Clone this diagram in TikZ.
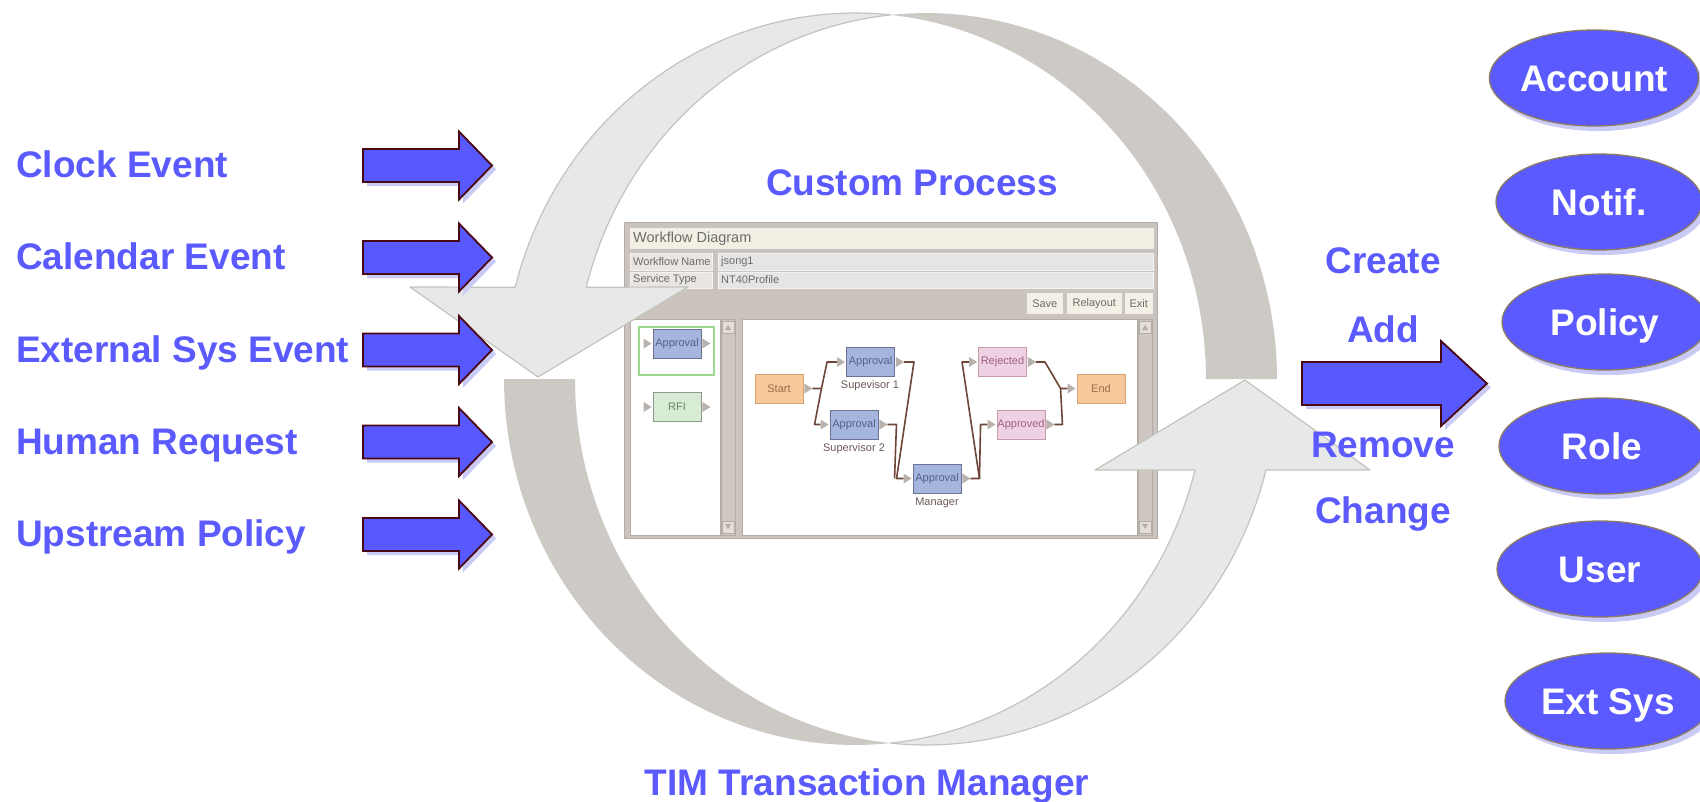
\documentclass[tikz,border=0pt]{standalone}
\usepackage{fontspec}
\setmainfont{Liberation Sans}
\usetikzlibrary{shapes.geometric,shadows}

\definecolor{lblblue}{HTML}{5A5AFF}
\definecolor{arrowfill}{HTML}{5858FF}
\definecolor{arrowedge}{HTML}{4A0812}
\definecolor{shadowblue}{HTML}{CACAF7}
\definecolor{ringlight}{HTML}{E6E9E7}
\definecolor{ringdark}{HTML}{CDCAC6}
\definecolor{ringedge}{HTML}{C3C4BD}
\definecolor{ellfill}{HTML}{5A5AFF}
\definecolor{elledge}{HTML}{8C7B63}
\definecolor{winframe}{HTML}{CBC3BD}
\definecolor{winedge}{HTML}{B4ACA6}
\definecolor{titlefill}{HTML}{F1F0E3}
\definecolor{fieldfill}{HTML}{E8E5E3}
\definecolor{valuefill}{HTML}{E5E5E5}
\definecolor{btnfill}{HTML}{F3F1E5}
\definecolor{wintext}{HTML}{6C6C6C}
\definecolor{scrollfill}{HTML}{CFC7C1}
\definecolor{scrollbtn}{HTML}{E4DED9}
\definecolor{approvalfill}{HTML}{A5B5DE}
\definecolor{approvaledge}{HTML}{6E7096}
\definecolor{approvaltext}{HTML}{55608A}
\definecolor{orangefill}{HTML}{F8C79A}
\definecolor{orangeedge}{HTML}{D7A274}
\definecolor{orangetext}{HTML}{9A6B4B}
\definecolor{pinkfill}{HTML}{EED2E4}
\definecolor{pinkedge}{HTML}{C99AA8}
\definecolor{pinktext}{HTML}{A1607E}
\definecolor{greenfill}{HTML}{D8EBD5}
\definecolor{greenedge}{HTML}{8E9A8C}
\definecolor{greentext}{HTML}{6E836C}
\definecolor{paletteedge}{HTML}{9CD890}
\definecolor{wirecolor}{HTML}{6E4536}
\definecolor{portgray}{HTML}{B9B2AC}
\definecolor{captiontext}{HTML}{6B5A55}

\tikzset{
  biglabel/.style={font=\fontsize{37}{44}\selectfont\bfseries, text=lblblue, inner sep=0pt},
  target/.style={ellipse, draw=elledge, line width=1.3pt, fill=ellfill,
    minimum width=206pt, minimum height=96pt, inner sep=0pt, text=white,
    font=\fontsize{37}{44}\selectfont\bfseries, text height=26.5pt, text depth=0pt,
    drop shadow={shadow xshift=4pt, shadow yshift=-5pt, fill=shadowblue, opacity=1}},
  blockarrow/.style={fill=arrowfill, draw=arrowedge, line width=1.8pt, line join=miter},
  arrowshadow/.style={fill=shadowblue},
  ringfront/.style={fill=ringlight, draw=ringedge, line width=1.2pt, line join=round},
  ringback/.style={fill=ringdark},
  panel/.style={fill=winframe, draw=winedge, line width=0.8pt},
  field/.style={fill=fieldfill, draw=white!85!winedge, line width=0.6pt},
  valuebox/.style={fill=valuefill, draw=white!85!winedge, line width=0.6pt},
  button/.style={fill=btnfill, draw=white!80!winedge, line width=0.6pt, inner sep=0pt,
    minimum height=20pt, text=wintext, font=\fontsize{11}{13}\selectfont},
  pane/.style={fill=white, draw=winedge, line width=0.8pt},
  scroll/.style={fill=scrollfill, draw=winedge, line width=0.5pt},
  scrollbtn/.style={fill=scrollbtn, draw=winedge, line width=0.5pt},
  smalltext/.style={text=wintext, font=\fontsize{11}{13}\selectfont, inner sep=0pt},
  caption/.style={text=captiontext, font=\fontsize{11}{13}\selectfont, inner sep=0pt},
  wfbox/.style={rectangle, draw, line width=0.9pt, minimum width=48pt, minimum height=29pt,
    inner sep=0pt, font=\fontsize{11}{13}\selectfont},
  approvalbox/.style={wfbox, fill=approvalfill, draw=approvaledge, text=approvaltext},
  terminalbox/.style={wfbox, fill=orangefill, draw=orangeedge, text=orangetext},
  outcomebox/.style={wfbox, fill=pinkfill, draw=pinkedge, text=pinktext},
  rfibox/.style={wfbox, fill=greenfill, draw=greenedge, text=greentext},
  wire/.style={draw=wirecolor, line width=1.6pt, line join=round},
  pics/inarrow/.style n args={4}{code={
    % #1 body length, #2 total length, #3 half body width, #4 half head width
    \fill[arrowshadow] (4,{-#3+4}) -- ({#1+4},{-#3+4}) -- ({#1+4},{-#4+4}) -- ({#2+4},4)
      -- ({#1+4},{#4+4}) -- ({#1+4},{#3+4}) -- (4,{#3+4}) -- cycle;
    \draw[blockarrow] (0,{-#3}) -- (#1,{-#3}) -- (#1,{-#4}) -- (#2,0) -- (#1,#4)
      -- (#1,#3) -- (0,#3) -- cycle;
  }},
}

\newcommand\inport[1]{\fill[portgray] ([xshift=-9pt,yshift=5pt]#1.west) -- ([xshift=-1pt]#1.west) -- ([xshift=-9pt,yshift=-5pt]#1.west) -- cycle;}
\newcommand\outport[1]{\fill[portgray] ([xshift=1pt,yshift=5pt]#1.east) -- ([xshift=9pt]#1.east) -- ([xshift=1pt,yshift=-5pt]#1.east) -- cycle;}

\begin{document}
\begin{tikzpicture}[x=1pt,y=-1pt]
\useasboundingbox (0,0) rectangle (1700,801);
\fill[white] (0,0) rectangle (1700,801);

% ---------- workflow editor window ----------
\draw[panel] (624,222) rectangle (1157,538);
\draw[fill=titlefill, draw=white!80!winedge, line width=0.6pt] (630,228) rectangle (1153,248);
\node[smalltext, anchor=west, font=\fontsize{14.5}{16}\selectfont] (wintitle) at (633,238.5) {Workflow Diagram};
\draw[field] (630,253) rectangle (712,270);
\draw[valuebox] (718,253) rectangle (1153,270);
\draw[field] (630,272) rectangle (712,288);
\draw[valuebox] (718,272) rectangle (1153,288);
\node[smalltext, anchor=west] (namelbl) at (633,261.5) {Workflow Name};
\node[smalltext, anchor=west] (nameval) at (721,261.5) {jsong1};
\node[smalltext, anchor=west] (typelbl) at (633,280) {Service Type};
\node[smalltext, anchor=west] (typeval) at (721,280) {NT40Profile};
\node[button, minimum width=35pt, anchor=north west] (save) at (1027,293) {Save};
\node[button, minimum width=54pt, anchor=north west] (relayout) at (1067,293) {Relayout};
\node[button, minimum width=27pt, anchor=north west] (exit) at (1125,293) {Exit};

% palette pane and its scrollbar
\draw[pane] (630,319) rectangle (720,535);
\draw[scroll] (721,319) rectangle (735,535);
\draw[scrollbtn] (722,321) rectangle (734,333);
\draw[scrollbtn] (722,521) rectangle (734,533);
\fill[winedge] (725,330) -- (731,330) -- (728,325) -- cycle;
\fill[winedge] (725,524) -- (731,524) -- (728,529) -- cycle;
% diagram pane and its scrollbar
\draw[pane] (742,319) rectangle (1137,535);
\draw[scroll] (1138,319) rectangle (1152,535);
\draw[scrollbtn] (1139,321) rectangle (1151,333);
\draw[scrollbtn] (1139,521) rectangle (1151,533);
\fill[winedge] (1142,330) -- (1148,330) -- (1145,325) -- cycle;
\fill[winedge] (1142,524) -- (1148,524) -- (1145,529) -- cycle;

% palette entries
\draw[paletteedge, line width=1.5pt] (639,327) rectangle (714,375);
\node[approvalbox] (palapproval) at (677,343.5) {Approval};
\node[rfibox] (palrfi) at (677,407) {RFI};
\inport{palapproval} \outport{palapproval}
\inport{palrfi} \outport{palrfi}

% workflow steps
\node[terminalbox] (start) at (779,388.5) {Start};
\node[approvalbox] (sup1) at (870.5,362) {Approval};
\node[approvalbox] (sup2) at (854,424.5) {Approval};
\node[approvalbox] (manager) at (937,478.5) {Approval};
\node[outcomebox] (rejected) at (1002.5,362) {Rejected};
\node[outcomebox] (approved) at (1021,424.5) {Approved};
\node[terminalbox] (end) at (1101,388.5) {End};
\node[caption] (cap1) at (870,386) {Supevisor 1};
\node[caption] (cap2) at (854,449) {Supervisor 2};
\node[caption] (cap3) at (937,503) {Manager};

\draw[wire] ([xshift=9pt]start.east) -- ++(9,0) -- ([xshift=-19pt]sup1.west) -- ([xshift=-9pt]sup1.west);
\draw[wire] ([xshift=18pt]start.east) -- ([xshift=-15pt]sup2.west) -- ([xshift=-9pt]sup2.west);
\draw[wire] ([xshift=9pt]sup1.east) -- ++(10,0) -- ([xshift=-16pt]manager.west) -- ([xshift=-9pt]manager.west);
\draw[wire] ([xshift=9pt]sup2.east) -- ++(9,0) -- ([xshift=-18pt]manager.west);
\draw[wire] ([xshift=9pt]manager.east) -- ++(9,0) -- ([xshift=-16pt]rejected.west) -- ([xshift=-9pt]rejected.west);
\draw[wire] ([xshift=18pt]manager.east) -- ([xshift=-16pt]approved.west) -- ([xshift=-9pt]approved.west);
\draw[wire] ([xshift=9pt]rejected.east) -- ++(9,0) -- ([xshift=-16pt]end.west) -- ([xshift=-9pt]end.west);
\draw[wire] ([xshift=9pt]approved.east) -- ++(8,0) -- ([xshift=-16pt]end.west);

\outport{start}
\inport{sup1} \outport{sup1}
\inport{sup2} \outport{sup2}
\inport{manager} \outport{manager}
\inport{rejected} \outport{rejected}
\inport{approved} \outport{approved}
\inport{end}

% ---------- the cycle: two curved arrows ----------
% upper arrow, back face (right half)
\fill[ringback] plot[domain=264.195:360, samples=60] ({926+351*cos(\x)},{379+366*sin(\x)})
  -- plot[domain=360:275.805, samples=60] ({855+351*cos(\x)},{379+366*sin(\x)}) -- cycle;
% upper arrow, front face with head pointing down on the left
\path[ringfront] (410,287)
  -- plot[domain=194.52:275.805, samples=60] ({855+351*cos(\x)},{379+366*sin(\x)})
  -- plot[domain=264.195:194.52, samples=60] ({926+351*cos(\x)},{379+366*sin(\x)})
  -- (688,287) -- (538,377) -- cycle;
% lower arrow, back face (left half)
\fill[ringback] plot[domain=180:84.195, samples=60] ({855+351*cos(\x)},{379+366*sin(\x)})
  -- plot[domain=95.805:180, samples=60] ({926+351*cos(\x)},{379+366*sin(\x)}) -- cycle;
% lower arrow, front face with head pointing up on the right
\path[ringfront] (1245,380) -- (1095,470)
  -- plot[domain=14.4:84.195, samples=60] ({855+351*cos(\x)},{379+366*sin(\x)})
  -- plot[domain=95.805:14.4, samples=60] ({926+351*cos(\x)},{379+366*sin(\x)})
  -- (1370,470) -- cycle;

% ---------- incoming events ----------
\pic (clockarrow) at (363,165.5) {inarrow={96}{129}{16.5}{34}};
\pic (calendararrow) at (363,257.5) {inarrow={96}{129}{16.5}{34}};
\pic (externalarrow) at (363,350) {inarrow={96}{129}{16.5}{34}};
\pic (humanarrow) at (363,442) {inarrow={96}{129}{16.5}{34}};
\pic (upstreamarrow) at (363,534.5) {inarrow={96}{129}{16.5}{34}};

\node[biglabel, anchor=base west] (clock) at (16,177) {Clock Event};
\node[biglabel, anchor=base west] (calendar) at (16,269) {Calendar Event};
\node[biglabel, anchor=base west] (external) at (16,362) {External Sys Event};
\node[biglabel, anchor=base west] (human) at (16,454) {Human Request};
\node[biglabel, anchor=base west] (upstream) at (16,546) {Upstream Policy};

% ---------- centre captions ----------
\node[biglabel, anchor=base] (custom) at (912,195) {Custom Process};
\node[biglabel, anchor=base] (tim) at (867,795) {TIM Transaction Manager};

% ---------- outgoing operations ----------
\pic (outarrow) at (1302,383.5) {inarrow={139}{185}{21.5}{42.5}};
\node[biglabel, anchor=base] (create) at (1383,273) {Create};
\node[biglabel, anchor=base] (add) at (1383,342) {Add};
\node[biglabel, anchor=base] (remove) at (1383,457) {Remove};
\node[biglabel, anchor=base] (change) at (1383,523) {Change};

% ---------- managed targets ----------
\node[target] (account) at (1594,78) {Account};
\node[target] (notif) at (1599,202) {Notif.};
\node[target] (policy) at (1605,322) {Policy};
\node[target] (role) at (1602,446) {Role};
\node[target] (user) at (1600,569) {User};
\node[target] (extsys) at (1608,701) {Ext Sys};
\end{tikzpicture}
\end{document}
